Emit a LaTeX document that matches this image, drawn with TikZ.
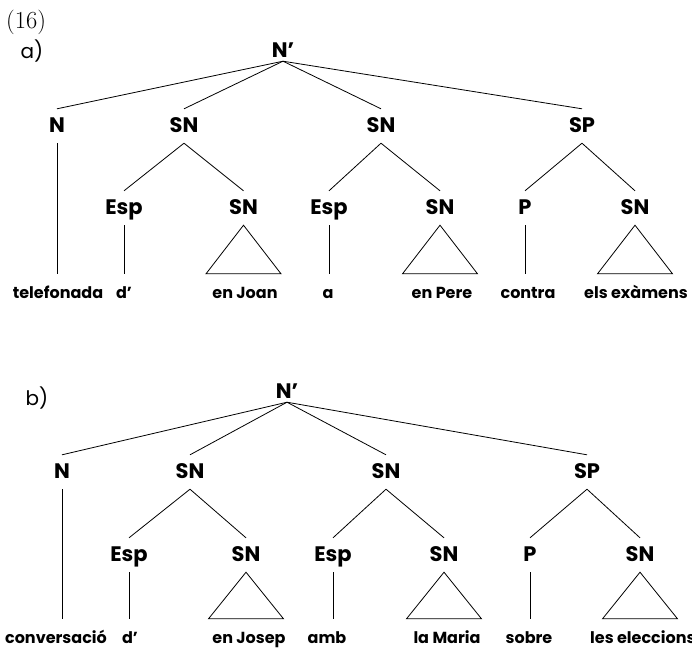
\documentclass[tikz,border=0pt]{standalone}
\usepackage{fontspec}
\newfontfamily\pop{Poppins}
\usetikzlibrary{calc}
\begin{document}
\begin{tikzpicture}[x=1pt,y=-1pt,
  lab/.style={font=\pop\bfseries\fontsize{21}{21}\selectfont, anchor=base, inner xsep=0pt, inner ysep=8pt, text height=15pt, text depth=3pt},
  rootlab/.style={lab, inner ysep=4pt, text depth=0pt},
  leaf/.style={font=\pop\bfseries\fontsize{16}{16}\selectfont, anchor=base, inner xsep=0pt, inner ysep=12pt, text height=12pt, text depth=0pt},
  tag/.style={font=\pop\fontsize{20}{20}\selectfont, anchor=base, inner sep=0pt},
  edge/.style={line width=0.8pt},
]
\useasboundingbox (0,0) rectangle (692,648);
\node[anchor=base west, inner sep=0pt, font=\fontsize{17.28}{20}\selectfont] (num) at (6,28) {\scalebox{1.42}{(16)}};
% ---------------- tree a
\node[tag] (ta) at (32,58) {a)};
\node[rootlab] (ar) at (283,57) {N’};
\node[lab] (an) at (57,132) {N};
\node[lab] (asn1) at (184,132) {SN};
\node[lab] (asn2) at (381,132) {SN};
\node[lab] (asp) at (582,132) {SP};
\node[lab] (aesp1) at (124,214) {Esp};
\node[lab] (asn3) at (243.5,214) {SN};
\node[lab] (aesp2) at (329,214) {Esp};
\node[lab] (asn4) at (440,214) {SN};
\node[lab] (ap) at (525,214) {P};
\node[lab] (asn5) at (635,214) {SN};
\node[leaf] (al1) at (58,298) {telefonada};
\node[leaf] (al2) at (124,298) {d’};
\node[leaf] (al3) at (245,298) {en Joan};
\node[leaf] (al4) at (328,298) {a};
\node[leaf] (al5) at (442,298) {en Pere};
\node[leaf] (al6) at (528,298) {contra};
\node[leaf] (al7) at (636,298) {els exàmens};
\foreach \c in {an,asn1,asn2,asp} \draw[edge] (ar.south) -- (\c.north);
\draw[edge] (asn1.south) -- (aesp1.north);
\draw[edge] (asn1.south) -- (asn3.north);
\draw[edge] (asn2.south) -- (aesp2.north);
\draw[edge] (asn2.south) -- (asn4.north);
\draw[edge] (asp.south) -- (ap.north);
\draw[edge] (asp.south) -- (asn5.north);
\draw[edge] (an.south) -- (an.south |- al1.north);
\draw[edge] (aesp1.south) -- (aesp1.south |- al2.north);
\draw[edge] (aesp2.south) -- (aesp2.south |- al4.north);
\draw[edge] (ap.south) -- (ap.south |- al6.north);
\draw[edge] (asn3.south) -- ($(asn3.south |- al3.north)+(-37.5,0)$) -- ($(asn3.south |- al3.north)+(37.5,0)$) -- cycle;
\draw[edge] (asn4.south) -- ($(asn4.south |- al5.north)+(-37.5,0)$) -- ($(asn4.south |- al5.north)+(37.5,0)$) -- cycle;
\draw[edge] (asn5.south) -- ($(asn5.south |- al7.north)+(-37.5,0)$) -- ($(asn5.south |- al7.north)+(37.5,0)$) -- cycle;
% ---------------- tree b
\node[tag] (tb) at (37,405) {b)};
\node[rootlab] (br) at (287,398) {N’};
\node[lab] (bn) at (62,478) {N};
\node[lab] (bsn1) at (190,478) {SN};
\node[lab] (bsn2) at (386,478) {SN};
\node[lab] (bsp) at (587,478) {SP};
\node[lab] (besp1) at (129,561) {Esp};
\node[lab] (bsn3) at (246,561) {SN};
\node[lab] (besp2) at (333,561) {Esp};
\node[lab] (bsn4) at (444,561) {SN};
\node[lab] (bp) at (530,561) {P};
\node[lab] (bsn5) at (640,561) {SN};
\node[leaf] (bl1) at (56,643) {conversació};
\node[leaf] (bl2) at (130,643) {d’};
\node[leaf] (bl3) at (249,643) {en Josep};
\node[leaf] (bl4) at (327,643) {amb};
\node[leaf] (bl5) at (447,643) {la Maria};
\node[leaf] (bl6) at (529,643) {sobre};
\node[leaf, anchor=base west] (bl7) at (590,643) {les eleccions};
\foreach \c in {bn,bsn1,bsn2,bsp} \draw[edge] (br.south) -- (\c.north);
\draw[edge] (bsn1.south) -- (besp1.north);
\draw[edge] (bsn1.south) -- (bsn3.north);
\draw[edge] (bsn2.south) -- (besp2.north);
\draw[edge] (bsn2.south) -- (bsn4.north);
\draw[edge] (bsp.south) -- (bp.north);
\draw[edge] (bsp.south) -- (bsn5.north);
\draw[edge] (bn.south) -- (bn.south |- bl1.north);
\draw[edge] (besp1.south) -- (besp1.south |- bl2.north);
\draw[edge] (besp2.south) -- (besp2.south |- bl4.north);
\draw[edge] (bp.south) -- (bp.south |- bl6.north);
\draw[edge] (bsn3.south) -- ($(bsn3.south |- bl3.north)+(-37.5,0)$) -- ($(bsn3.south |- bl3.north)+(37.5,0)$) -- cycle;
\draw[edge] (bsn4.south) -- ($(bsn4.south |- bl5.north)+(-37.5,0)$) -- ($(bsn4.south |- bl5.north)+(37.5,0)$) -- cycle;
\draw[edge] (bsn5.south) -- ($(bsn5.south |- bl7.north)+(-37.5,0)$) -- ($(bsn5.south |- bl7.north)+(37.5,0)$) -- cycle;
\end{tikzpicture}
\end{document}
